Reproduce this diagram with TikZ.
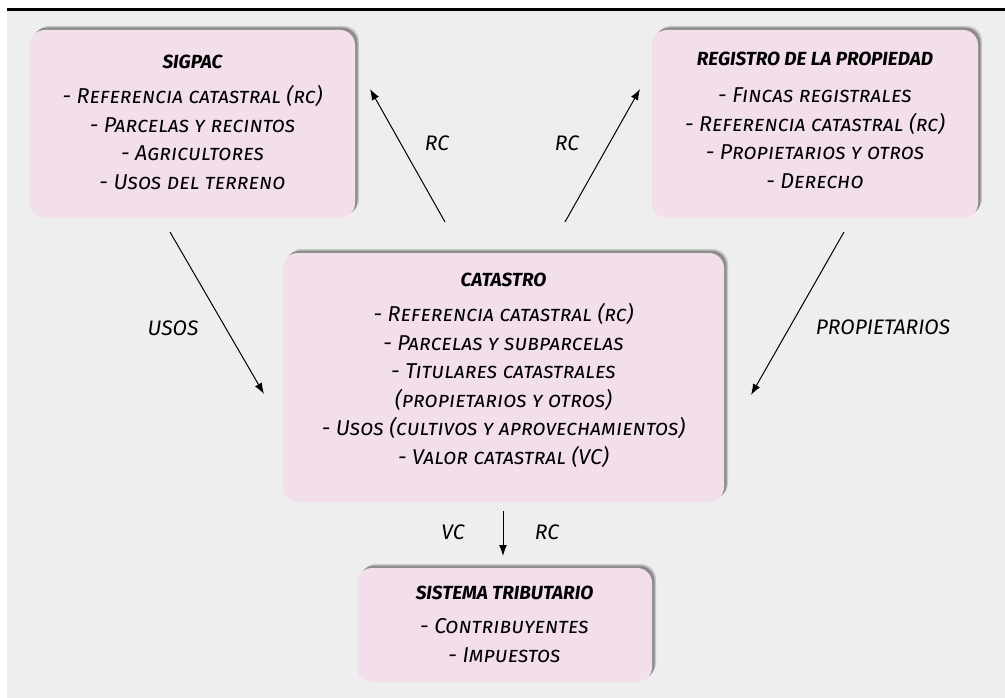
\documentclass[tikz,border=0pt]{standalone}
\usepackage{fontspec}
\setmainfont{Fira Sans}
\newfontfamily\scf{Fira Sans}[Letters=SmallCaps]
\usetikzlibrary{shadows,arrows.meta}
\definecolor{bg}{HTML}{EEEEEE}
\definecolor{boxpink}{HTML}{F2DFEB}
\newcommand\ttl{\fontsize{19}{28.5}\selectfont\bfseries}
\begin{document}
\begin{tikzpicture}[x=1pt,y=-1pt,
 box/.style={draw=none,fill=boxpink,rounded corners=15pt,inner sep=0pt,
   drop shadow={shadow xshift=4pt,shadow yshift=4pt,fill=black!22,opacity=1},
   drop shadow={shadow xshift=2.5pt,shadow yshift=2.5pt,fill=black!45,opacity=1}},
 txt/.style={align=center,font=\scf\itshape\fontsize{21.5}{28.5}\selectfont,inner sep=0pt},
 lbl/.style={font=\itshape\fontsize{21}{22}\selectfont,inner sep=0pt},
 arr/.style={-{Latex[length=11pt,width=8pt]},line width=1pt}]
\useasboundingbox (0,0) rectangle (1005,698);
\fill[white] (0,0) rectangle (1005,698);
\fill[bg] (7,10) rectangle (1005,698);
\draw[line width=3pt] (7,10) -- (1005,10);
% boxes
\node[box,minimum width=325pt,minimum height=188pt] (sigpac) at (192.5,124) {};
\node[box,minimum width=326pt,minimum height=188pt] (registro) at (815,124) {};
\node[box,minimum width=441pt,minimum height=249pt] (catastro) at (503.5,377.5) {};
\node[box,minimum width=295pt,minimum height=114pt] (sistema) at (504.5,625) {};
% texts
\node[txt] (sigpacT) at (192.5,122) {{\ttl SIGPAC}\\[7pt]
 - Referencia catastral (rc)\\ - Parcelas y recintos\\ - Agricultores\\ - Usos del terreno};
\node[txt] (registroT) at (815,120) {{\ttl REGISTRO DE LA PROPIEDAD}\\[9pt]
 - Fincas registrales\\ - Referencia catastral (rc)\\ - Propietarios y otros\\ - Derecho};
\node[txt] (catastroT) at (503.5,370) {{\ttl CATASTRO}\\[7pt]
 - Referencia catastral (rc)\\ - Parcelas y subparcelas\\ - Titulares catastrales\\ (propietarios y otros)\\ - Usos (cultivos y aprovechamientos)\\ - Valor catastral (VC)};
\node[txt] (sistemaT) at (504.5,624) {{\ttl SISTEMA TRIBUTARIO}\\[6pt]
 - Contribuyentes\\ - Impuestos};
% arrows
\coordinate (a1s) at (445,222); \coordinate (a1e) at (370,89);
\coordinate (a2s) at (565,222); \coordinate (a2e) at (640,89);
\coordinate (a3s) at (170,232); \coordinate (a3e) at (264,394);
\coordinate (a4s) at (844,232); \coordinate (a4e) at (751,395);
\coordinate (a5s) at (503,511); \coordinate (a5e) at (503,556);
\draw[arr] (a1s) -- (a1e);
\draw[arr] (a2s) -- (a2e);
\draw[arr] (a3s) -- (a3e);
\draw[arr] (a4s) -- (a4e);
\draw[arr] (a5s) -- (a5e);
% labels
\node[lbl] (l1) at (437,143) {RC};
\node[lbl] (l2) at (567,143) {RC};
\node[lbl] (l3) at (173,328) {USOS};
\node[lbl] (l4) at (883,327) {PROPIETARIOS};
\node[lbl] (l5) at (453,532) {VC};
\node[lbl] (l6) at (547,532) {RC};
\end{tikzpicture}
\end{document}
